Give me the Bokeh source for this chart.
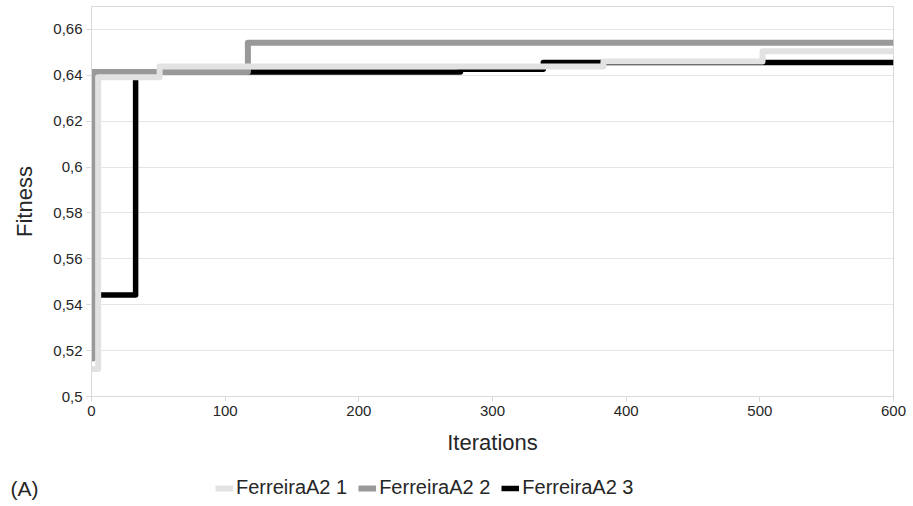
from bokeh.plotting import figure
from bokeh.layouts import column
from bokeh.models import Range1d, FixedTicker, CustomJSTickFormatter, Legend, LegendItem
from bokeh.embed import file_html
from bokeh.resources import INLINE

# Data (step change points)
iters1 = [0, 5, 51, 383, 502, 600]
fit1 = [0.512, 0.6392, 0.6438, 0.6460, 0.6505, 0.6505]
iters2 = [0, 1, 117, 600]
fit2 = [0.5166, 0.6414, 0.6542, 0.6542]
iters3 = [0, 33, 276, 338, 600]
fit3 = [0.5442, 0.6414, 0.6427, 0.6456, 0.6456]
names = ["FerreiraA2 1", "FerreiraA2 2", "FerreiraA2 3"]
colors = ["#e2e2e2", "#999999", "#000000"]
widths = [6, 6, 5.5]
y_ticks = [0.50, 0.52, 0.54, 0.56, 0.58, 0.60, 0.62, 0.64, 0.66]
x_ticks = [0, 100, 200, 300, 400, 500, 600]
panel_tag = "(A)"

FONT = "Liberation Sans"
TXT = "#262626"

p = figure(width=913, height=470, output_backend="svg", toolbar_location=None,
           x_range=Range1d(0, 600), y_range=Range1d(0.5, 0.67),
           min_border_left=91, min_border_right=20, min_border_top=6, min_border_bottom=74)
p.background_fill_color = "white"
p.border_fill_color = "white"
p.outline_line_color = "#d9d9d9"
p.outline_line_width = 1

p.xgrid.grid_line_color = None
p.ygrid.grid_line_color = "#e6e6e6"
p.ygrid.grid_line_width = 1

p.yaxis.ticker = FixedTicker(ticks=y_ticks)
p.xaxis.ticker = FixedTicker(ticks=x_ticks)
p.yaxis.formatter = CustomJSTickFormatter(code="""
var s = tick.toFixed(2).replace(/0+$/, '').replace(/\\.$/, '');
return s.replace('.', ',');
""")
for ax in (p.xaxis, p.yaxis):
    ax.axis_line_color = "#d9d9d9"
    ax.major_tick_line_color = "#d9d9d9"
    ax.major_tick_out = 5
    ax.major_tick_in = 0
    ax.minor_tick_line_color = None
    ax.major_label_text_font = FONT
    ax.major_label_text_font_size = "15px"
    ax.major_label_text_color = TXT
    ax.axis_label_text_font = FONT
    ax.axis_label_text_font_size = "22px"
    ax.axis_label_text_font_style = "normal"
    ax.axis_label_text_color = TXT

p.yaxis.axis_label = "Fitness"
p.xaxis.axis_label = "Iterations"
p.yaxis.major_label_standoff = 4
p.xaxis.major_label_standoff = 4
p.yaxis.axis_label_standoff = 13
p.xaxis.axis_label_standoff = 11

series = [(iters3, fit3, 2), (iters2, fit2, 1), (iters1, fit1, 0)]
for xs, ys, i in series:
    p.step(xs, ys, mode="after", line_color=colors[i], line_width=widths[i], line_join="round")

# Legend strip below the chart (frame aligned with main plot by the column layout)
p2 = figure(width=913, height=36, output_backend="svg", toolbar_location=None,
            x_range=Range1d(0, 600), y_range=Range1d(0, 36),
            x_axis_location=None,
            min_border_left=91, min_border_right=20, min_border_top=0, min_border_bottom=0)
p2.outline_line_color = None
p2.xgrid.grid_line_color = None
p2.ygrid.grid_line_color = None
p2.background_fill_color = "white"
p2.border_fill_color = "white"
p2.yaxis.ticker = FixedTicker(ticks=[18])
p2.yaxis.major_label_overrides = {18: panel_tag}
p2.yaxis.axis_line_color = None
p2.yaxis.major_tick_line_color = None
p2.yaxis.minor_tick_line_color = None
p2.yaxis.major_label_text_font = FONT
p2.yaxis.major_label_text_font_size = "21px"
p2.yaxis.major_label_text_color = TXT
p2.yaxis.major_label_standoff = 47

lr = {}
for xs, ys, i in series:
    lr[i] = p2.step(xs, ys, mode="after", line_color=colors[i], line_width=widths[i], visible=False)

legend = Legend(items=[LegendItem(label=names[i], renderers=[lr[i]]) for i in range(3)],
                orientation="horizontal", location=(124, 7),
                label_text_font=FONT, label_text_font_size="20px", label_text_color=TXT,
                glyph_width=18, glyph_height=20, label_standoff=3, spacing=11,
                padding=0, margin=0, border_line_color=None, background_fill_alpha=0)
p2.add_layout(legend, "center")

layout = column(p, p2, spacing=0)
open("out.html", "w").write(file_html(layout, INLINE))
